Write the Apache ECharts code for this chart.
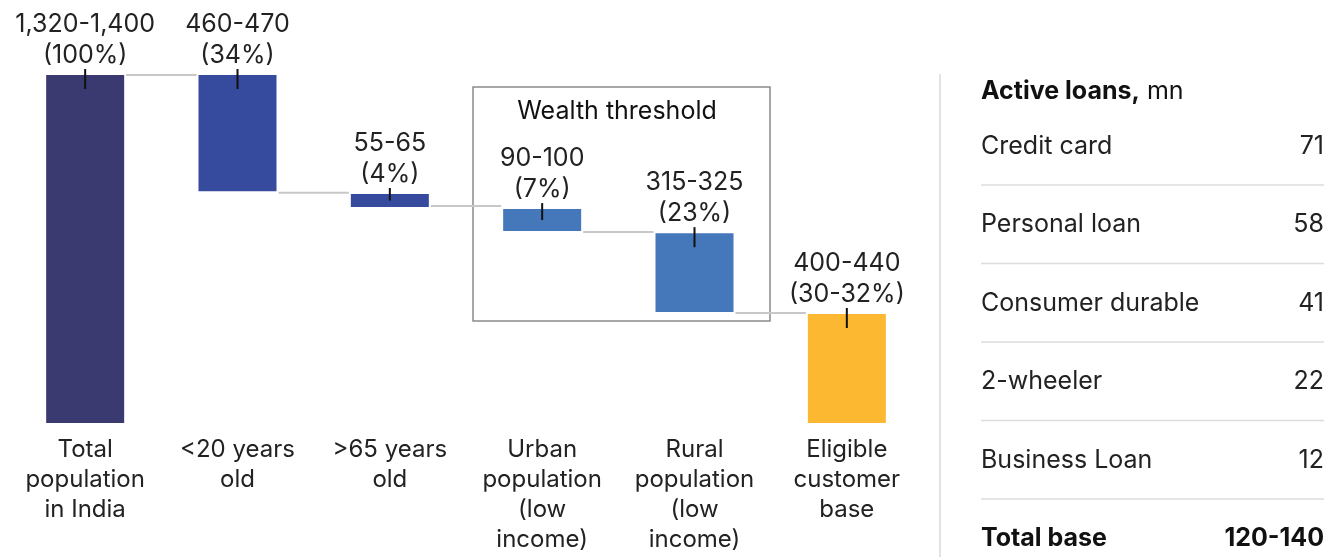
<!DOCTYPE html>
<html>
<head>
<meta charset="utf-8">
<script src="https://cdn.jsdelivr.net/npm/echarts@6/dist/echarts.min.js"></script>
<style>
html,body{margin:0;padding:0;background:#fff;}
#chart{width:1336px;height:557px;}
</style>
</head>
<body>
<div id="chart"></div>
<script>
// ---- data ----
var categories = ['Total\npopulation\nin India', '<20 years\nold', '>65 years\nold', 'Urban\npopulation\n(low\nincome)', 'Rural\npopulation\n(low\nincome)', 'Eligible\ncustomer\nbase'];
var barLow  = [0,    906,  844, 750, 434, 0];
var barHigh = [1360, 1360, 895, 836, 742, 426];
var connectorLevels = [1360, 900, 848, 746, 430];
var valueLabels = ['1,320-1,400', '460-470', '55-65', '90-100', '315-325', '400-440'];
var shareLabels = ['(100%)', '(34%)', '(4%)', '(7%)', '(23%)', '(30-32%)'];
var barColors = ['#3a3a70', '#364a9e', '#364a9e', '#4577bb', '#4577bb', '#fbb830'];
var boxTitle = 'Wealth threshold';
var tableTitleBold = 'Active loans,';
var tableTitleUnit = ' mn';
var loanTypes = ['Credit card', 'Personal loan', 'Consumer durable', '2-wheeler', 'Business Loan'];
var loanValues = ['71', '58', '41', '22', '12'];
var totalLabel = 'Total base';
var totalValue = '120-140';

var FONT = 'Inter';
var FS = 25;
var chart = echarts.init(document.getElementById('chart'));

var baseData = barLow.map(function (v) { return v; });
var sizeData = barHigh.map(function (v, i) {
  return {
    value: v - barLow[i],
    itemStyle: { color: barColors[i] },
    label: { formatter: valueLabels[i] + '\n' + shareLabels[i] }
  };
});
var tickData = barHigh.map(function (v, i) { return [i, v, barLow[i]]; });
var connData = connectorLevels.map(function (v, i) { return [i, v]; });

var BAR_W = 78;

var graphics = [];
graphics.push({ type: 'line', shape: { x1: 940, y1: 74, x2: 940, y2: 557 }, style: { stroke: '#e3e3e3', lineWidth: 2 } });
graphics.push({ type: 'rect', shape: { x: 473, y: 87, width: 297, height: 234 }, style: { fill: 'none', stroke: '#8a8a8a', lineWidth: 1.5 } });
graphics.push({ type: 'text', x: 617, y: 111, style: { text: boxTitle, font: FS + 'px ' + FONT, fill: '#111', align: 'center', verticalAlign: 'middle' } });
graphics.push({ type: 'text', x: 981, y: 91, style: {
  text: '{b|' + tableTitleBold + '}{r|' + tableTitleUnit + '}',
  rich: { b: { font: 'bold ' + FS + 'px ' + FONT, fill: '#111' }, r: { font: FS + 'px ' + FONT, fill: '#111' } },
  verticalAlign: 'middle'
} });
var rowY0 = 146, rowStep = 78.5;
loanTypes.forEach(function (name, i) {
  var y = rowY0 + i * rowStep;
  graphics.push({ type: 'text', x: 981, y: y, style: { text: name, font: FS + 'px ' + FONT, fill: '#222', verticalAlign: 'middle' } });
  graphics.push({ type: 'text', x: 1324, y: y, style: { text: loanValues[i], font: FS + 'px ' + FONT, fill: '#222', align: 'right', verticalAlign: 'middle' } });
  graphics.push({ type: 'line', shape: { x1: 981, y1: y + 39, x2: 1324, y2: y + 39 }, style: { stroke: '#dcdcdc', lineWidth: 1.5 } });
});
var ty = rowY0 + loanTypes.length * rowStep;
graphics.push({ type: 'text', x: 981, y: ty, style: { text: totalLabel, font: 'bold ' + FS + 'px ' + FONT, fill: '#111', verticalAlign: 'middle' } });
graphics.push({ type: 'text', x: 1324, y: ty, style: { text: totalValue, font: 'bold ' + FS + 'px ' + FONT, fill: '#111', align: 'right', verticalAlign: 'middle' } });

chart.setOption({
  animation: false,
  textStyle: { fontFamily: FONT },
  grid: { left: 9, right: 413, top: 75, bottom: 134, containLabel: false },
  xAxis: {
    type: 'category',
    data: categories,
    axisLine: { show: false },
    axisTick: { show: false },
    axisLabel: { interval: 0, fontSize: 24, lineHeight: 30, color: '#222', margin: 12, fontFamily: FONT }
  },
  yAxis: { type: 'value', min: 0, max: 1360, show: false, splitLine: { show: false } },
  series: [
    { type: 'bar', stack: 'w', data: baseData, barWidth: BAR_W, itemStyle: { color: 'transparent' }, silent: true },
    {
      type: 'bar', stack: 'w', data: sizeData, barWidth: BAR_W,
      label: { show: true, position: 'top', distance: 4, fontSize: FS, lineHeight: 31, color: '#222', fontFamily: FONT }
    },
    {
      type: 'custom', data: connData, z: 1,
      renderItem: function (params, api) {
        var i = api.value(0), v = api.value(1);
        var p1 = api.coord([i, v]);
        var p2 = api.coord([i + 1, v]);
        return { type: 'line', shape: { x1: p1[0] + BAR_W / 2 + 2, y1: p1[1], x2: p2[0] - BAR_W / 2 - 2, y2: p2[1] }, style: { stroke: '#c8c8c8', lineWidth: 2 } };
      }
    },
    {
      type: 'custom', data: tickData, z: 5,
      renderItem: function (params, api) {
        var i = api.value(0);
        var top = api.coord([i, api.value(1)]);
        var bot = api.coord([i, api.value(2)]);
        var h = bot[1] - top[1];
        var down = Math.min(14, h / 2);
        return { type: 'line', shape: { x1: top[0], y1: top[1] - 6, x2: top[0], y2: top[1] + down }, style: { stroke: '#111', lineWidth: 2 } };
      }
    }
  ],
  graphic: graphics
});
</script>
</body>
</html>
